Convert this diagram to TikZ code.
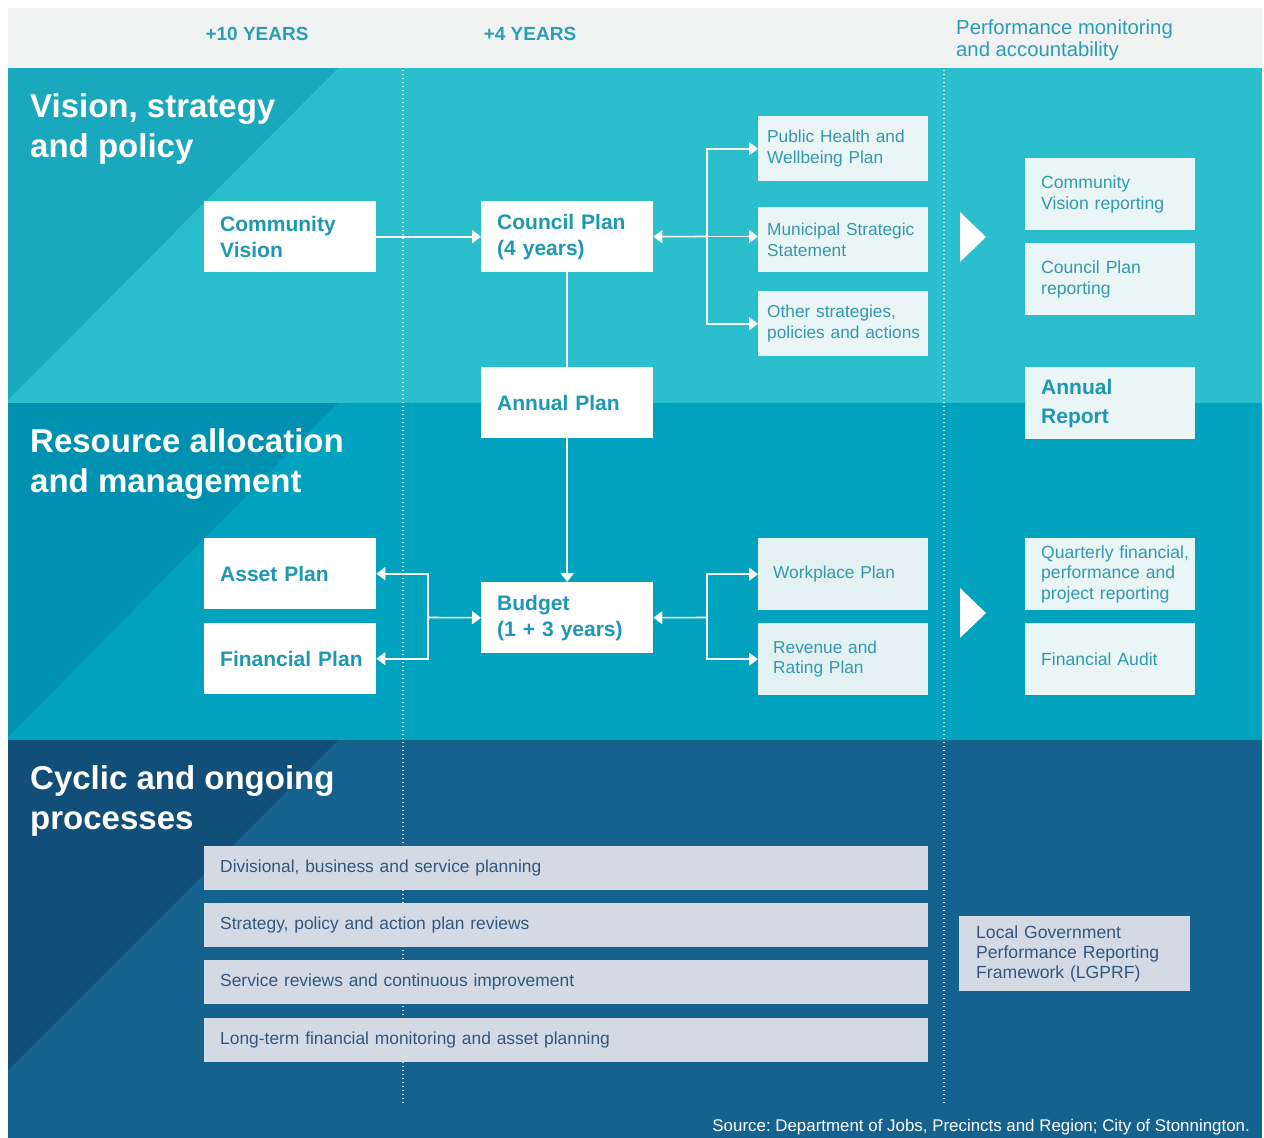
\documentclass[tikz,border=0pt]{standalone}
\usepackage{fontspec}
\setmainfont{Liberation Sans}
\usetikzlibrary{arrows.meta}
\frenchspacing

\definecolor{headbg}{HTML}{F1F3F3}
\definecolor{bandA}{HTML}{2BBECC}
\definecolor{bandAd}{HTML}{1AA8BC}
\definecolor{bandB}{HTML}{00A2BE}
\definecolor{bandBd}{HTML}{0091B0}
\definecolor{bandC}{HTML}{15628F}
\definecolor{bandCd}{HTML}{114F78}
\definecolor{tealtext}{HTML}{1E98B2}
\definecolor{headtext}{HTML}{2B9DB6}
\definecolor{lighttext}{HTML}{3399AF}
\definecolor{lightbox}{HTML}{EAF5F5}
\definecolor{lightboxB}{HTML}{E3F1F3}
\definecolor{barfill}{HTML}{D3DAE4}
\definecolor{bartext}{HTML}{33577F}

\tikzset{
  % left-aligned text with a fixed left indent inside a box of fixed width
  padded/.style={anchor=north west, align=left, inner xsep=0pt,
    execute at begin node={\leftskip=#1\relax\hyphenpenalty=10000\relax}},
  heading/.style={anchor=north west, inner sep=0pt, text=white, align=left,
    font=\bfseries\fontsize{33}{40}\selectfont},
  wbox/.style={padded=16pt, fill=white, text=tealtext,
    minimum width=172pt, minimum height=71pt, text width=172pt,
    font=\bfseries\fontsize{21}{26}\selectfont},
  lbox/.style={padded=9pt, fill=lightbox, text=lighttext,
    minimum width=170pt, minimum height=65pt, text width=170pt,
    font=\fontsize{17.3}{20.5}\selectfont},
  lboxB/.style={lbox, padded=15pt, fill=lightboxB, minimum height=72pt},
  rbox/.style={padded=16pt, fill=lightbox, text=lighttext,
    minimum width=170pt, minimum height=72pt, text width=170pt,
    font=\fontsize{17.6}{20.5}\selectfont},
  bar/.style={padded=16pt, fill=barfill, text=bartext,
    minimum width=724pt, minimum height=44pt, text width=724pt,
    font=\fontsize{17.4}{20}\selectfont},
  conn/.style={draw=white, line width=1.6pt, -{Triangle[length=9pt,width=13pt]}},
  link/.style={draw=white, line width=1.6pt},
  divider/.style={draw=white, draw opacity=0.75, line width=1.3pt, dash pattern=on 1.3pt off 2.7pt},
}

\begin{document}
\begin{tikzpicture}[x=1pt,y=-1pt]
\useasboundingbox (0,0) rectangle (1264,1138);
\fill[white] (0,0) rectangle (1264,1138);

% header strip and the three horizontal bands
\fill[headbg] (8,8) rectangle (1262,68);
\fill[bandA] (8,68) rectangle (1262,403);
\fill[bandAd] (8,68) -- (338,68) -- (8,400) -- cycle;
\fill[bandB] (8,403) rectangle (1262,740);
\fill[bandBd] (8,403) -- (338,403) -- (8,737) -- cycle;
\fill[bandC] (8,740) rectangle (1262,1138);
\fill[bandCd] (8,740) -- (338,740) -- (8,1070) -- cycle;

% column headings
\node[text=headtext, font=\bfseries\fontsize{19}{22}\selectfont] (h10) at (257,34) {+10 YEARS};
\node[text=headtext, font=\bfseries\fontsize{19}{22}\selectfont] (h4) at (530,34) {+4 YEARS};
\node[anchor=west, inner sep=0pt, text=headtext, align=left, font=\fontsize{20.3}{22}\selectfont]
  (hpm) at (956,40) {Performance monitoring\\and accountability};

% time-horizon dividers
\draw[divider] (403,70) -- (403,1105);
\draw[divider] (944,70) -- (944,1105);

% band titles
\node[heading] (t1) at (30,93) {Vision, strategy\\and policy};
\node[heading] (t2) at (30,428) {Resource allocation\\and management};
\node[heading] (t3) at (30,765) {Cyclic and ongoing\\processes};

% planning documents
\node[wbox] (cv) at (204,201) {Community\\Vision};
\node[wbox] (cp) at (481,201) {Council Plan\\(4 years)};
\node[wbox] (ap) at (481,367) {Annual Plan};
\node[wbox] (asset) at (204,538) {Asset Plan};
\node[wbox] (fin) at (204,623) {Financial Plan};
\node[wbox] (bud) at (481,582) {Budget\\(1 + 3 years)};

\node[lbox] (ph) at (758,116) {Public Health and\\Wellbeing Plan};
\node[lbox] (mss) at (758,207) {Municipal Strategic\\Statement};
\node[lbox] (osp) at (758,291) {Other strategies,\\policies and actions};
\node[lboxB] (wp) at (758,538) {Workplace Plan};
\node[lboxB] (rr) at (758,623) {Revenue and\\Rating Plan};

% reporting
\node[rbox] (cvr) at (1025,158) {Community\\Vision reporting};
\node[rbox] (cpr) at (1025,243) {Council Plan\\reporting};
\node[rbox, font=\bfseries\fontsize{21}{29}\selectfont, text=tealtext] (ar) at (1025,367) {Annual\\Report};
\node[rbox] (qr) at (1025,538) {Quarterly financial,\\performance and\\project reporting};
\node[rbox] (fa) at (1025,623) {Financial Audit};
\node[padded=17pt, fill=barfill, text=bartext,
  minimum width=231pt, minimum height=75pt, text width=231pt,
  font=\fontsize{17.6}{20}\selectfont] (lg) at (959,916)
  {Local Government\\Performance Reporting\\Framework (LGPRF)};

\fill[white] (960,212) -- (986,237) -- (960,262) -- cycle;
\fill[white] (960,588) -- (986,613) -- (960,638) -- cycle;

% ongoing processes
\node[bar] (b1) at (204,846) {Divisional, business and service planning};
\node[bar] (b2) at (204,903) {Strategy, policy and action plan reviews};
\node[bar] (b3) at (204,960) {Service reviews and continuous improvement};
\node[bar] (b4) at (204,1018) {Long-term financial monitoring and asset planning};

% junctions
\coordinate (jA) at (707,236.5);
\coordinate (jB) at (428,617.5);
\coordinate (jC) at (707,617.5);

% connectors
\draw[conn] (cv.east) -- (cp.west);
\draw[conn] (jA) -- (cp.east);
\draw[conn] (jA) -- (jA -| mss.west);
\draw[conn] (jA) |- (ph.west);
\draw[conn] (jA) |- (osp.west);
\draw[link] (cp.south) -- (ap.north);
\draw[conn] (ap.south) -- (bud.north);
\draw[conn] (jB) -- (bud.west);
\draw[conn] (jB) |- (asset.east);
\draw[conn] (jB) |- (fin.east);
\draw[conn] (jC) -- (bud.east);
\draw[conn] (jC) |- (wp.west);
\draw[conn] (jC) |- (rr.west);

\node[anchor=base east, inner sep=0pt, text=white, font=\fontsize{16.9}{18}\selectfont]
  (src) at (1250,1131) {Source: Department of Jobs, Precincts and Region; City of Stonnington.};
\end{tikzpicture}
\end{document}
